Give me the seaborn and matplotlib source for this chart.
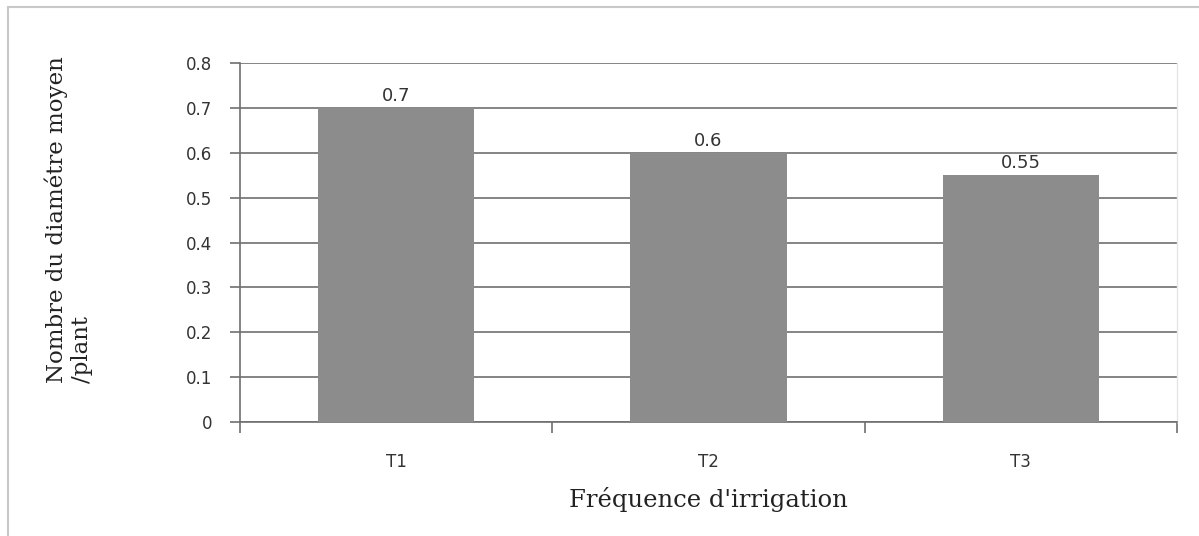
import matplotlib
matplotlib.use("Agg")
import matplotlib.pyplot as plt
import seaborn as sns
import pandas as pd
from matplotlib.lines import Line2D

categories = ["T1", "T2", "T3"]
values = [0.7, 0.6, 0.55]
value_labels = ["0.7", "0.6", "0.55"]
y_ticks = [0, 0.1, 0.2, 0.3, 0.4, 0.5, 0.6, 0.7, 0.8]
y_tick_labels = ["0", "0.1", "0.2", "0.3", "0.4", "0.5", "0.6", "0.7", "0.8"]

sns.set_theme(style="white")
plt.rcParams["font.family"] = ["DejaVu Sans"]

df = pd.DataFrame({"traitement": categories, "valeur": values})

fig = plt.figure(figsize=(11.99, 5.36), dpi=100)
ax = fig.add_axes([240 / 1199, 1 - 422 / 536, (1177 - 240) / 1199, (422 - 63) / 536])

sns.barplot(data=df, x="traitement", y="valeur", color="#8c8c8c", width=0.5,
            saturation=1, linewidth=0, edgecolor="none", ax=ax, zorder=3)

ax.set_ylim(0, 0.8)
ax.set_xlim(-0.5, 2.5)
ax.set_yticks(y_ticks)
ax.set_yticklabels(y_tick_labels)
ax.yaxis.grid(True, color="#6f6f6f", linewidth=1.2, zorder=1)
ax.set_axisbelow(True)

ax.spines["top"].set_visible(False)
ax.spines["right"].set_color("#e6e6e6")
ax.spines["right"].set_linewidth(1)
ax.spines["left"].set_color("#6f6f6f")
ax.spines["left"].set_linewidth(1.2)
ax.spines["bottom"].set_color("#6f6f6f")
ax.spines["bottom"].set_linewidth(1.2)

ax.tick_params(axis="y", which="both", left=True, length=7, width=1.2, color="#6f6f6f",
               labelsize=12, labelcolor="#333333", pad=13)
ax.set_xticks([0, 1, 2])
ax.set_xticklabels(categories)
ax.tick_params(axis="x", which="major", bottom=False, labelsize=12, labelcolor="#333333", pad=16)
ax.set_xticks([-0.5, 0.5, 1.5, 2.5], minor=True)
ax.tick_params(axis="x", which="minor", bottom=True, length=8, width=1.2, color="#6f6f6f")

for cont in ax.containers:
    ax.bar_label(cont, labels=value_labels, padding=2, fontsize=13, color="#333333")

ax.set_xlabel("Fréquence d'irrigation", family="DejaVu Serif", fontsize=17.5,
              color="#222222", labelpad=12)
ax.set_ylabel("Nombre du diamétre moyen\n/plant", family="DejaVu Serif", fontsize=16.5,
              color="#222222", linespacing=1.15, multialignment="left")
ax.yaxis.set_label_coords(-0.157, 0.563)

# thin outer frame on the top and left edges
fig.add_artist(Line2D([8 / 1199, 1], [1 - 7 / 536, 1 - 7 / 536], color="#c8c8c8", linewidth=1.5))
fig.add_artist(Line2D([8 / 1199, 8 / 1199], [0, 1 - 7 / 536], color="#c8c8c8", linewidth=1.5))

fig.savefig("out.png", dpi=100, facecolor="white")
